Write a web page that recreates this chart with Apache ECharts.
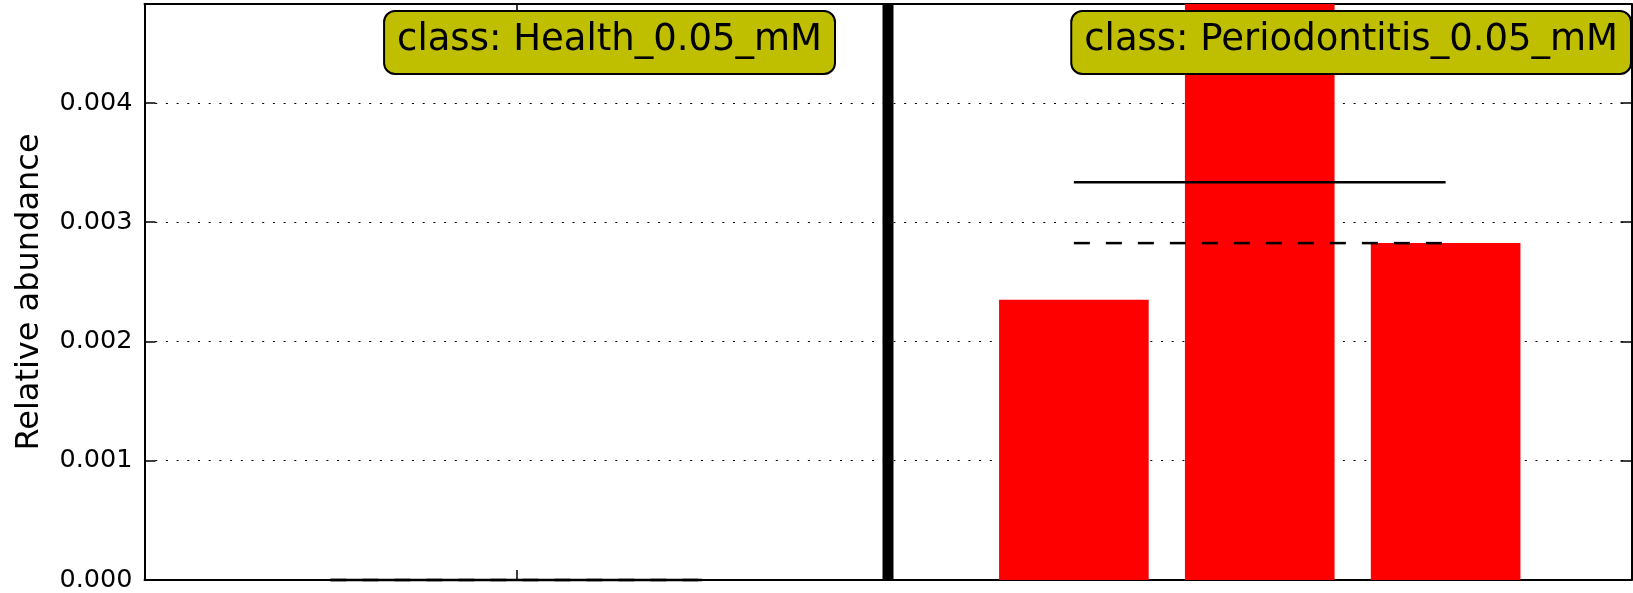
<!DOCTYPE html>
<html><head><meta charset="utf-8">
<script src="https://cdn.jsdelivr.net/npm/echarts@6/dist/echarts.min.js"></script>
<style>html,body{margin:0;padding:0;background:#fff}#c{width:1633px;height:593px}</style>
</head><body><div id="c"></div>
<script>
// ---- data ----
const classNames = ['Health_0.05_mM', 'Periodontitis_0.05_mM'];
const healthX = [1, 2, 3];
const healthValues = [0, 0, 0];
const perioX = [5, 6, 7];
const perioValues = [0.00235, 0.00483, 0.002825];
const separatorX = 4;
const classCenters = [2, 6];
const yTickValues = [0, 0.001, 0.002, 0.003, 0.004];
const Y_MAX = 0.00483;
const X_MAX = 8;

// ---- helpers ----
const mean = a => a.reduce((s, v) => s + v, 0) / a.length;
const median = a => { const s = [...a].sort((p, q) => p - q); const m = Math.floor(s.length / 2); return s.length % 2 ? s[m] : (s[m - 1] + s[m]) / 2; };

const FONT = 'DejaVu Sans';
const barData = healthX.map((x, i) => [x, healthValues[i]]).concat(perioX.map((x, i) => [x, perioValues[i]]));

function statLine(xs, v, dashed) {
  return {
    type: 'line', xAxisIndex: 0, yAxisIndex: 0, silent: true, symbol: 'none', z: dashed ? 5 : 7, clip: false,
    data: [[xs[0], v], [xs[xs.length - 1], v]],
    lineStyle: { color: '#000', width: 2.5, type: dashed ? [16, 16] : 'solid' }
  };
}

const chart = echarts.init(document.getElementById('c'));
const axisLineStyle = { color: '#000', width: 2 };
chart.setOption({
  animation: false,
  backgroundColor: '#fff',
  grid: { left: 144.5, top: 4, right: 1.5, bottom: 12.5, containLabel: false },
  xAxis: [
    { type: 'value', min: 0, max: X_MAX, position: 'bottom',
      axisLine: { show: true, lineStyle: axisLineStyle },
      axisTick: { show: true, inside: true, length: 10, customValues: classCenters, lineStyle: { color: '#000', width: 1.5 } },
      axisLabel: { show: false }, splitLine: { show: false } },
    { type: 'value', min: 0, max: X_MAX, position: 'top',
      axisLine: { show: true, onZero: false, lineStyle: axisLineStyle },
      axisTick: { show: true, inside: true, length: 10, customValues: classCenters, lineStyle: { color: '#000', width: 1.5 } },
      axisLabel: { show: false }, splitLine: { show: false } }
  ],
  yAxis: [
    { type: 'value', min: 0, max: Y_MAX, interval: 0.001, position: 'left',
      name: 'Relative abundance', nameLocation: 'middle', nameGap: 99,
      nameTextStyle: { fontFamily: FONT, fontSize: 32, color: '#000' },
      axisLine: { show: true, lineStyle: axisLineStyle },
      axisTick: { show: true, inside: true, length: 11, customValues: yTickValues, lineStyle: { color: '#000', width: 1.5 } },
      axisLabel: { customValues: yTickValues, formatter: v => v.toFixed(3), fontFamily: FONT, fontSize: 25.5, color: '#000', margin: 12 },
      splitLine: { show: true, lineStyle: { color: '#000', width: 1, type: [2, 8.7] } } },
    { type: 'value', min: 0, max: Y_MAX, interval: 0.001, position: 'right',
      axisLine: { show: true, onZero: false, lineStyle: axisLineStyle },
      axisTick: { show: true, inside: true, length: 11, customValues: yTickValues, lineStyle: { color: '#000', width: 1.5 } },
      axisLabel: { show: false }, splitLine: { show: false } }
  ],
  series: [
    { type: 'bar', xAxisIndex: 0, yAxisIndex: 0, data: barData, barWidth: '80.5%',
      itemStyle: { color: '#ff0000' }, silent: true, z: 2 },
    statLine(healthX, mean(healthValues), false),
    statLine(healthX, median(healthValues), true),
    statLine(perioX, mean(perioValues), false),
    statLine(perioX, median(perioValues), true),
    { type: 'line', xAxisIndex: 0, yAxisIndex: 0, silent: true, symbol: 'none', z: 8,
      data: [[separatorX, 0], [separatorX, Y_MAX]],
      lineStyle: { color: '#000', width: 11 } }
  ],
  graphic: [
    { type: 'text', right: 1633 - 836, top: 10, z: 100,
      style: { text: 'class: ' + classNames[0], font: '37px "DejaVu Sans"', fill: '#000',
        backgroundColor: '#bfbf00', borderColor: '#000', borderWidth: 2, borderRadius: 10,
        padding: [8, 12, 13, 12], lineHeight: 40 } },
    { type: 'text', right: 1, top: 10, z: 100,
      style: { text: 'class: ' + classNames[1], font: '37px "DejaVu Sans"', fill: '#000',
        backgroundColor: '#bfbf00', borderColor: '#000', borderWidth: 2, borderRadius: 10,
        padding: [8, 12, 13, 12], lineHeight: 40 } }
  ]
});
</script></body></html>
